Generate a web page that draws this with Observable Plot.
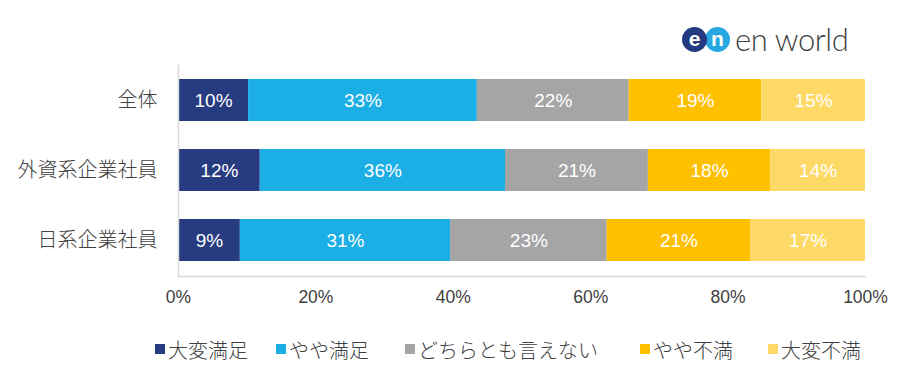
<!DOCTYPE html>
<html><head><meta charset="utf-8">
<script src="https://cdn.jsdelivr.net/npm/d3@7"></script>
<script src="https://cdn.jsdelivr.net/npm/@observablehq/plot@0.6"></script>
<style>
body{margin:0;background:#fff;font-family:"Liberation Sans","Noto Sans CJK JP",sans-serif;}
#wrap{position:relative;width:924px;height:366px;}
#logo{position:absolute;left:682px;top:23px;height:32px;display:flex;align-items:center;}
.c{width:25px;height:25px;border-radius:50%;color:#fff;font:bold 21px "Liberation Sans",sans-serif;display:flex;align-items:center;justify-content:center;line-height:1;padding-bottom:1px;box-sizing:border-box;}
#legend{position:absolute;left:0;top:337px;width:924px;height:24px;font-size:20px;font-weight:300;color:#404040;font-family:"Noto Sans CJK JP",sans-serif;}
.li{position:absolute;top:0;display:flex;align-items:center;height:24px;white-space:nowrap;}
.sw{width:10px;height:10px;margin-right:3px;}
svg g[aria-label="y-axis tick label"] text{font-family:"Noto Sans CJK JP",sans-serif;font-weight:300;}
</style></head><body>
<div id="wrap"><div id="chart"></div>
<div id="logo"><div class="c" style="background:#233a80;position:relative;z-index:1">e</div><div class="c" style="background:#27a8e0;margin-left:-2px">n</div><span style="font:300 31px Lato,'Open Sans',sans-serif;color:#3f3f3f;margin-left:5px;letter-spacing:-0.4px">en world</span></div>
<div id="legend"></div></div>
<script>
const groups = ["全体", "外資系企業社員", "日系企業社員"];
const categories = ["大変満足", "やや満足", "どちらとも言えない", "やや不満", "大変不満"];
const colors = ["#263b80", "#1cafe5", "#a5a5a5", "#ffc000", "#ffd966"];
const values = [
  [10.2, 33.3, 22.1, 19.3, 15.1],
  [11.9, 35.7, 20.8, 17.8, 13.8],
  [9.0, 30.6, 22.8, 20.9, 16.7]
];
const labels = [
  ["10%", "33%", "22%", "19%", "15%"],
  ["12%", "36%", "21%", "18%", "14%"],
  ["9%", "31%", "23%", "21%", "17%"]
];
const xTicks = [0, 20, 40, 60, 80, 100];

const data = [];
groups.forEach((g, i) => categories.forEach((c, j) => data.push({group: g, cat: c, value: values[i][j], label: labels[i][j]})));

const stackOpts = {x: "value", y: "group", z: "cat", order: categories};
const chart = Plot.plot({
  width: 924, height: 320,
  marginLeft: 178, marginRight: 59, marginTop: 65, marginBottom: 44,
  style: {fontFamily: '"Liberation Sans","Noto Sans CJK JP",sans-serif', fontSize: "17px", color: "#404040"},
  x: {domain: [0, 100], label: null},
  y: {domain: groups, paddingInner: 0.394, paddingOuter: 0.183, label: null},
  color: {domain: categories, range: colors},
  marks: [
    Plot.barX(data, Plot.stackX({...stackOpts, fill: "cat"})),
    Plot.text(data, Plot.stackX({...stackOpts, text: "label", fill: "white", fontSize: 19})),
    Plot.frame({anchor: "left", stroke: "#d9d9d9", strokeWidth: 1.5}),
    Plot.frame({anchor: "bottom", stroke: "#d9d9d9", strokeWidth: 1.5}),
    Plot.axisX({anchor: "bottom", ticks: xTicks, tickFormat: d => d + "%", tickSize: 0, tickPadding: 14, fontSize: 17.5, label: null}),
    Plot.axisY({anchor: "left", tickSize: 0, tickPadding: 21, fontSize: 20, label: null})
  ]
});
document.getElementById("chart").appendChild(chart);

const legendX = [155, 276, 405, 640, 768];
const lg = document.getElementById("legend");
categories.forEach((c, j) => {
  const d = document.createElement("div"); d.className = "li"; d.style.left = legendX[j] + "px";
  d.innerHTML = `<div class="sw" style="background:${colors[j]}"></div><span>${c}</span>`;
  lg.appendChild(d);
});
</script></body></html>
